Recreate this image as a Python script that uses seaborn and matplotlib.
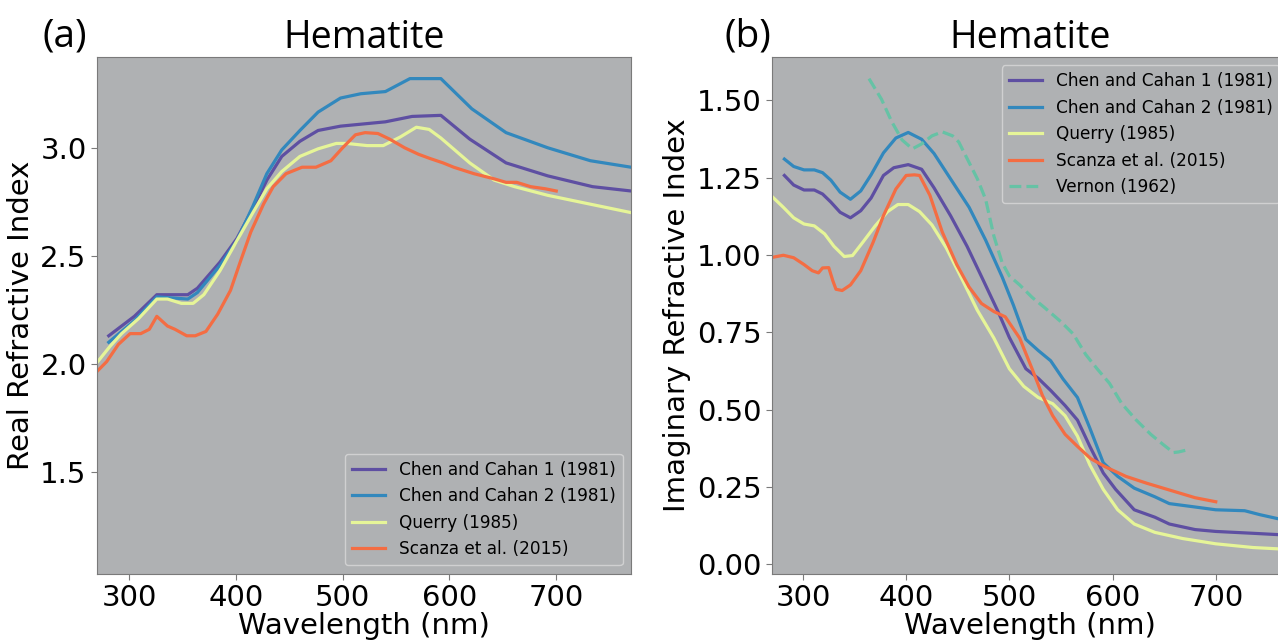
import numpy as np
import pandas as pd
import matplotlib
matplotlib.use("Agg")
import matplotlib.pyplot as plt
import seaborn as sns

# ---- (a) real refractive index ----
wl_cc1_n = [281, 305, 326, 355, 364, 385, 401, 416, 429, 443, 460, 477, 498, 540, 565, 592, 619, 653, 692, 734, 770]
n_cc1 = [2.13, 2.22, 2.32, 2.32, 2.35, 2.47, 2.58, 2.72, 2.85, 2.96, 3.03, 3.08, 3.10, 3.12, 3.145, 3.15, 3.04, 2.93, 2.87, 2.82, 2.80]

wl_cc2_n = [281, 305, 326, 355, 364, 385, 401, 416, 429, 443, 460, 477, 498, 517, 540, 563, 592, 621, 653, 692, 732, 770]
n_cc2 = [2.10, 2.20, 2.31, 2.30, 2.33, 2.455, 2.57, 2.73, 2.88, 2.99, 3.08, 3.165, 3.23, 3.25, 3.26, 3.32, 3.32, 3.18, 3.07, 3.00, 2.94, 2.91]

wl_qu_n = [269, 282, 293, 309, 326, 336, 349, 360, 370, 385, 401, 416, 429, 443, 460, 477, 494, 504, 523, 538, 554, 569,
           581, 592, 619, 642, 661, 692, 726, 770]
n_qu = [2.00, 2.08, 2.14, 2.21, 2.30, 2.30, 2.28, 2.28, 2.32, 2.43, 2.57, 2.70, 2.81, 2.89, 2.96, 2.995, 3.02, 3.02, 3.01,
        3.01, 3.05, 3.095, 3.085, 3.045, 2.93, 2.85, 2.82, 2.78, 2.745, 2.70]

wl_sc_n = [269, 279, 290, 301, 311, 319, 326, 336, 343, 354, 362, 372, 383, 395, 404, 414, 426, 435, 447, 462, 475, 489,
           500, 512, 521, 533, 544, 558, 571, 582, 594, 604, 623, 642, 653, 663, 676, 690, 700]
n_sc = [1.96, 2.01, 2.09, 2.14, 2.14, 2.16, 2.22, 2.175, 2.16, 2.13, 2.13, 2.15, 2.23, 2.34, 2.47, 2.61, 2.74, 2.82, 2.88,
        2.91, 2.91, 2.94, 3.00, 3.06, 3.07, 3.066, 3.04, 3.00, 2.97, 2.95, 2.93, 2.91, 2.88, 2.856, 2.84, 2.84, 2.82, 2.81, 2.80]

# ---- (b) imaginary refractive index ----
wl_cc1_k = [282, 291, 301, 311, 319, 327, 336, 346, 356, 366, 378, 388, 402, 415, 427, 443, 459, 475, 489, 500, 516, 528,
            540, 554, 566, 578, 591, 603, 621, 641, 655, 680, 700, 736, 770]
k_cc1 = [1.257, 1.226, 1.21, 1.21, 1.197, 1.171, 1.138, 1.12, 1.143, 1.184, 1.257, 1.282, 1.292, 1.277, 1.217, 1.127,
         1.028, 0.916, 0.817, 0.733, 0.632, 0.601, 0.562, 0.513, 0.466, 0.381, 0.295, 0.242, 0.176, 0.152, 0.13, 0.112,
         0.106, 0.10, 0.094]

wl_cc2_k = [282, 291, 301, 311, 319, 327, 336, 346, 356, 366, 378, 390, 402, 415, 427, 443, 461, 477, 493, 504, 516, 528,
            540, 552, 566, 578, 591, 605, 621, 641, 655, 680, 700, 728, 743, 770]
k_cc2 = [1.31, 1.286, 1.275, 1.275, 1.266, 1.242, 1.203, 1.18, 1.207, 1.259, 1.33, 1.378, 1.396, 1.374, 1.328, 1.246,
         1.154, 1.048, 0.929, 0.837, 0.727, 0.691, 0.658, 0.599, 0.539, 0.44, 0.328, 0.284, 0.246, 0.218, 0.196, 0.185,
         0.176, 0.173, 0.16, 0.14]

wl_qu_k = [270, 281, 291, 301, 311, 321, 330, 340, 348, 358, 370, 382, 392, 402, 413, 425, 439, 455, 469, 485, 500, 514,
           528, 542, 554, 566, 578, 591, 605, 621, 641, 668, 700, 736, 770]
k_qu = [1.189, 1.154, 1.12, 1.10, 1.094, 1.068, 1.028, 0.995, 0.998, 1.041, 1.094, 1.14, 1.163, 1.163, 1.14, 1.097,
        1.022, 0.916, 0.821, 0.731, 0.632, 0.575, 0.539, 0.519, 0.48, 0.414, 0.321, 0.242, 0.176, 0.13, 0.103, 0.083,
        0.066, 0.054, 0.048]

wl_sc_k = [270, 281, 291, 301, 309, 315, 319, 325, 329, 332, 338, 346, 356, 368, 378, 390, 400, 408, 413, 423, 435, 449,
           461, 473, 485, 496, 510, 522, 532, 542, 554, 566, 579, 593, 613, 633, 657, 680, 700]
k_sc = [0.992, 0.999, 0.991, 0.969, 0.949, 0.942, 0.958, 0.959, 0.916, 0.889, 0.885, 0.903, 0.949, 1.041, 1.127, 1.213,
        1.257, 1.259, 1.257, 1.193, 1.074, 0.969, 0.896, 0.843, 0.817, 0.80, 0.731, 0.632, 0.546, 0.48, 0.42, 0.381,
        0.341, 0.315, 0.284, 0.262, 0.238, 0.215, 0.202]

wl_ve_k = [364, 376, 386, 396, 406, 415, 425, 435, 445, 451, 459, 469, 477, 485, 493, 500, 510, 522, 534, 550, 562, 574,
           585, 597, 609, 623, 637, 649, 659, 664, 674]
k_ve = [1.57, 1.504, 1.431, 1.372, 1.343, 1.359, 1.385, 1.398, 1.385, 1.365, 1.312, 1.246, 1.18, 1.061, 0.975, 0.932,
        0.903, 0.863, 0.83, 0.784, 0.744, 0.678, 0.632, 0.585, 0.519, 0.466, 0.42, 0.387, 0.361, 0.363, 0.371]

labels = ["Chen and Cahan 1 (1981)", "Chen and Cahan 2 (1981)", "Querry (1985)", "Scanza et al. (2015)", "Vernon (1962)"]
colors = ["#5e4fa2", "#3288bd", "#e6f598", "#f46d43", "#66c2a5"]

bg = "#afb1b3"
edge = "#7a7a7a"

fig = plt.figure(figsize=(12.78, 6.41), dpi=100)
ax_a = fig.add_axes([97 / 1278, 67.5 / 641, 534 / 1278, 516.5 / 641])
ax_b = fig.add_axes([772 / 1278, 67.5 / 641, 516 / 1278, 516.5 / 641])

real_sets = [(wl_cc1_n, n_cc1), (wl_cc2_n, n_cc2), (wl_qu_n, n_qu), (wl_sc_n, n_sc)]
imag_sets = [(wl_cc1_k, k_cc1), (wl_cc2_k, k_cc2), (wl_qu_k, k_qu), (wl_sc_k, k_sc), (wl_ve_k, k_ve)]

for i, (x, y) in enumerate(real_sets):
    df = pd.DataFrame({"wl": x, "n": y})
    sns.lineplot(data=df, x="wl", y="n", ax=ax_a, color=colors[i], lw=2.3, label=labels[i],
                 sort=False, estimator=None)

for i, (x, y) in enumerate(imag_sets):
    df = pd.DataFrame({"wl": x, "k": y})
    sns.lineplot(data=df, x="wl", y="k", ax=ax_b, color=colors[i], lw=2.3, label=labels[i],
                 sort=False, estimator=None, linestyle="--" if i == 4 else "-")

for ax in (ax_a, ax_b):
    ax.set_facecolor(bg)
    ax.set_xlim(270, 770)
    ax.set_xticks([300, 400, 500, 600, 700])
    ax.tick_params(labelsize=21, color=edge, length=4)
    ax.set_xlabel("Wavelength (nm)", fontsize=21, labelpad=0)
    ax.set_title("Hematite", fontsize=27, family="Open Sans", pad=5)
    for s in ax.spines.values():
        s.set_color(edge)

ax_a.set_ylim(1.03, 3.42)
ax_a.set_yticks([1.5, 2.0, 2.5, 3.0])
ax_a.set_ylabel("Real Refractive Index", fontsize=21)
ax_a.legend(loc="lower right", fontsize=12.2, facecolor=bg, edgecolor="0.85", framealpha=0.8)

ax_b.set_ylim(-0.03, 1.64)
ax_b.set_yticks([0.0, 0.25, 0.5, 0.75, 1.0, 1.25, 1.5])
ax_b.set_yticklabels(["0.00", "0.25", "0.50", "0.75", "1.00", "1.25", "1.50"])
ax_b.set_ylabel("Imaginary Refractive Index", fontsize=21)
ax_b.legend(loc="upper right", fontsize=12.2, facecolor=bg, edgecolor="0.85", framealpha=0.8)

fig.text(43 / 1278, 1 - 37 / 641, "(a)", fontsize=28, family="Open Sans", ha="left", va="center")
fig.text(724 / 1278, 1 - 37 / 641, "(b)", fontsize=28, family="Open Sans", ha="left", va="center")

fig.savefig("out.png", dpi=100)
